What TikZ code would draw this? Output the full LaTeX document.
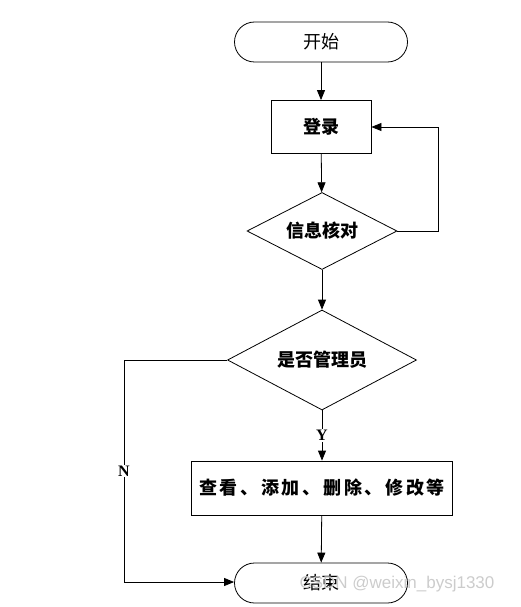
\documentclass[tikz,border=0pt]{standalone}
\usepackage{fontspec}
\newfontfamily\cjk{Noto Sans CJK SC}
\newfontfamily\latin{Liberation Serif}
\newfontfamily\wmark{Liberation Sans}
\usetikzlibrary{arrows.meta,shapes.geometric}
\tikzset{
	terminal/.style={draw, rectangle, rounded corners=20pt, minimum width=173pt, minimum height=40pt, font=\cjk\fontsize{18}{20}\selectfont},
	process/.style={draw, rectangle, inner sep=0pt, font=\cjk\fontsize{18}{20}\selectfont\bfseries},
	decision/.style={draw, diamond, shape aspect=2, inner sep=0pt, font=\cjk\fontsize{18}{20}\selectfont\bfseries},
	arrow/.style={draw, -{Triangle[length=10pt,width=8pt]}},
	branch/.style={fill=white, inner sep=1pt, font=\latin\fontsize{16}{17}\selectfont\bfseries}
}

\begin{document}
\begin{tikzpicture}[x=1pt, y=-1pt, line width=0.8pt]
		%%%%% START %%%%%
		\useasboundingbox (0, 0) rectangle (521, 607);
		
		\node[terminal] (start) at (321, 42) {开始};
		\node[process, minimum width=100pt, minimum height=53pt] (login) at (321, 127) {登录};
		\node[decision, minimum width=150pt, minimum height=77pt] (check) at (322, 231) {信息核对};
		\node[decision, minimum width=189pt, minimum height=100pt] (admin) at (322, 360) {是否管理员};
		\node[process, minimum width=261pt, minimum height=54pt] (ops) at (322, 488) {\addfontfeature{LetterSpace=15}查看、添加、删除、修改等};
		\node[terminal] (end) at (321, 583) {结束};
		
		\coordinate (back) at (438, 127);
		\coordinate (ncorner) at (124, 360);
		\coordinate (nbottom) at (124, 582);
		
		\draw[arrow] (start) -- (login);
		\draw[arrow] (login) -- (check);
		\draw[arrow] (check.east) -| (back) -- (login.east);
		\draw[arrow] (check) -- (admin);
		\draw[arrow] (admin) -- node[branch] {Y} (ops);
		\draw[arrow] (ops) -- (end);
		\draw[arrow] (admin.west) -- (ncorner) -- node[branch] {N} (nbottom) -- (end.west |- nbottom);
		
		\node[text=gray!40, font=\wmark\fontsize{17}{18}\selectfont] (mark) at (397, 584) {CSDN @weixin\_bysj1330};
		
		%%%%% END %%%%%
	\end{tikzpicture}
\end{document}
